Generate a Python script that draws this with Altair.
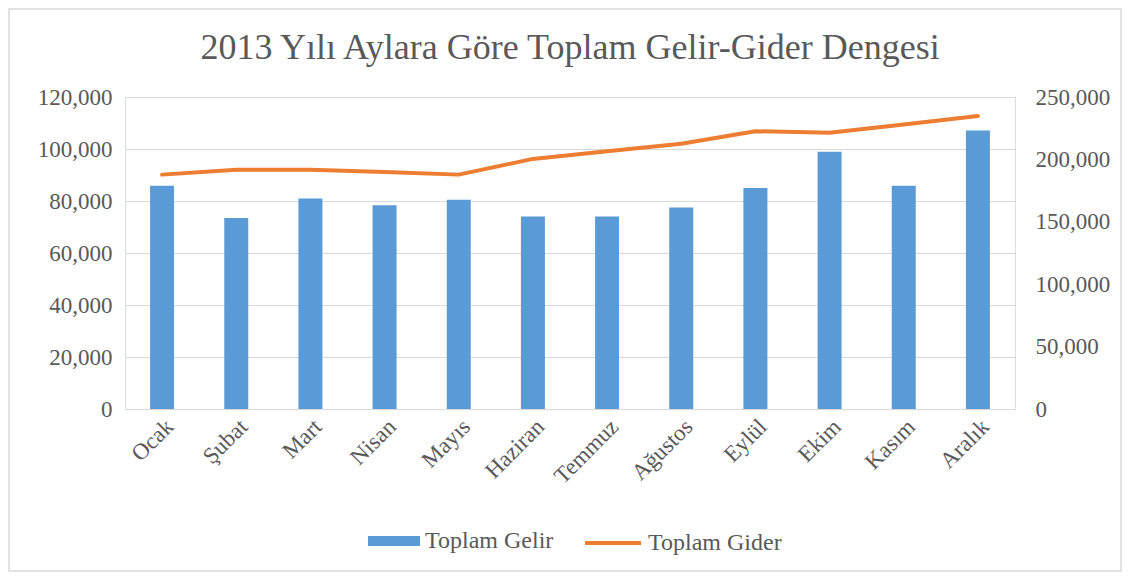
import altair as alt
import pandas as pd

months = ["Ocak", "Şubat", "Mart", "Nisan", "Mayıs", "Haziran",
          "Temmuz", "Ağustos", "Eylül", "Ekim", "Kasım", "Aralık"]
gelir = [85900, 73500, 81000, 78400, 80500, 74000,
         74000, 77500, 85000, 98900, 85900, 107100]
gider = [187800, 191800, 191800, 190000, 187800, 200400,
         206600, 212500, 222600, 221300, 228000, 234700]
left_ticks = [0, 20000, 40000, 60000, 80000, 100000, 120000]
right_ticks = [0, 50000, 100000, 150000, 200000, 250000]

df = pd.DataFrame({"Ay": months, "Gelir": gelir, "Gider": gider})

FONT = "Liberation Serif"
TXT = "#595959"
BLUE = "#5B9BD5"
ORANGE = "#ED7D31"
LBL = 23

W, H = 890, 312

x = alt.X("Ay:N", sort=months, title=None,
          scale=alt.Scale(paddingInner=0, paddingOuter=0),
          axis=alt.Axis(labelAngle=-45, labelFontSize=LBL, labelFont=FONT,
                        labelColor=TXT, ticks=False, domain=False,
                        labelPadding=6, grid=False))

legend_common = dict(title=None, orient="none", direction="horizontal",
                     labelFont=FONT, labelFontSize=24, labelColor=TXT,
                     labelOffset=5, symbolOpacity=1)

bars = alt.Chart(df).transform_calculate(seri="'Toplam Gelir'").mark_bar(size=24).encode(
    x=x,
    y=alt.Y("Gelir:Q", title=None,
            scale=alt.Scale(domain=[0, 120000], nice=False),
            axis=alt.Axis(values=left_ticks, format=",.0f", labelFont=FONT,
                          labelFontSize=LBL, labelColor=TXT, ticks=False,
                          domain=False, labelPadding=13, grid=True,
                          gridColor="#D9D9D9", gridWidth=1)),
    color=alt.Color("seri:N", scale=alt.Scale(domain=["Toplam Gelir"], range=[BLUE]),
                    legend=alt.Legend(legendX=243, legendY=418,
                                      symbolType="M-1,-0.19H1V0.19H-1Z",
                                      symbolSize=2704, symbolStrokeWidth=0,
                                      **legend_common)),
)

line = alt.Chart(df).transform_calculate(seri="'Toplam Gider'").mark_line(
    strokeWidth=4, strokeCap="round", strokeJoin="round").encode(
    x=x,
    y=alt.Y("Gider:Q", title=None,
            scale=alt.Scale(domain=[0, 250000], nice=False),
            axis=alt.Axis(orient="right", values=right_ticks, format=",.0f",
                          labelFont=FONT, labelFontSize=LBL, labelColor=TXT,
                          ticks=False, domain=False, labelPadding=20,
                          grid=False)),
    color=alt.Color("seri:N", scale=alt.Scale(domain=["Toplam Gider"], range=[ORANGE]),
                    legend=alt.Legend(legendX=458, legendY=416,
                                      symbolType="M-1,0H1",
                                      symbolSize=3136, symbolStrokeWidth=4,
                                      **legend_common)),
)

border = alt.Chart(pd.DataFrame({"k": [0]})).mark_rect(
    fill="transparent", stroke="#D9D9D9", strokeWidth=1.5).encode(
    x=alt.value(-116), x2=alt.value(996),
    y=alt.value(-88), y2=alt.value(474),
)

chart = alt.layer(border, bars, line).resolve_scale(
    y="independent", color="independent").resolve_legend(color="independent").properties(
    width=W, height=H,
    title=alt.TitleParams("2013 Yılı Aylara Göre Toplam Gelir-Gider Dengesi",
                          font=FONT, fontSize=36, fontWeight="normal",
                          color=TXT, anchor="middle", baseline="alphabetic",
                          offset=-87),
    autosize=alt.AutoSizeParams(type="none"),
    padding={"left": 117, "top": 89, "right": 107, "bottom": 163},
).configure_view(stroke=None).configure(background="white")

chart.save("out.html", embed_options={"renderer": "svg", "actions": False})
